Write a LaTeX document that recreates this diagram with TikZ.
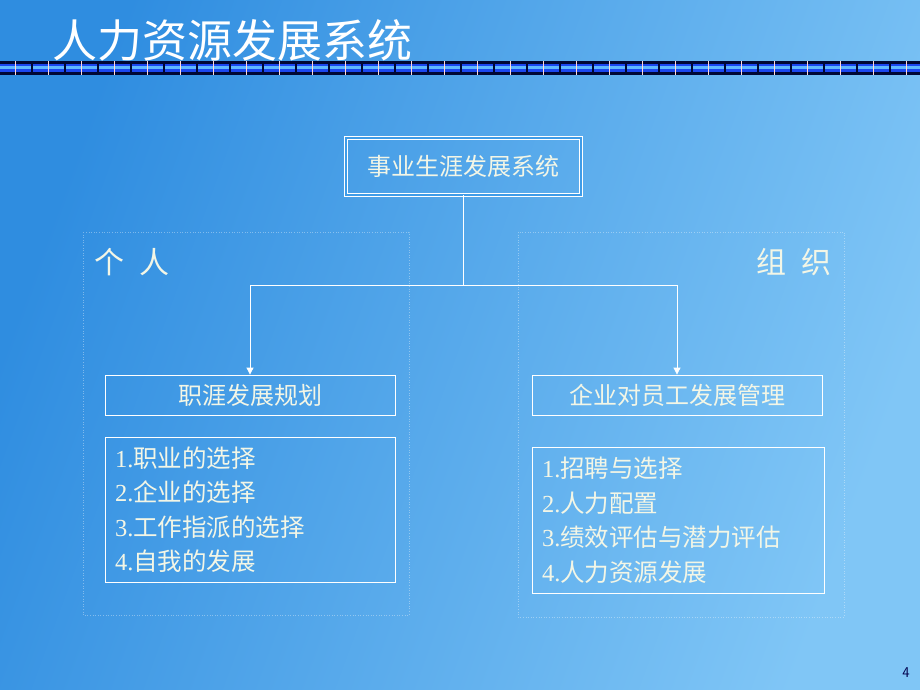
\documentclass[tikz,border=0pt]{standalone}
\usepackage{fontspec}
\setmainfont{Liberation Serif}
\newfontfamily\cjk{Noto Sans CJK SC}
\usetikzlibrary{arrows.meta}

\definecolor{bgleft}{HTML}{2F8DE0}
\definecolor{bgright}{HTML}{80C6F6}
\definecolor{bgmid}{HTML}{3F9CE8}
\definecolor{inktext}{HTML}{F3F6E6}
\definecolor{barnavy}{HTML}{000835}
\definecolor{barblue}{HTML}{1B47F0}
\definecolor{barcyan}{HTML}{5FB8FF}

\begin{document}
\begin{tikzpicture}[x=1pt,y=-1pt,
    boxline/.style={draw=white,line width=0.8pt},
    headbox/.style={boxline,text=inktext,minimum height=40pt,font=\cjk\fontsize{24pt}{24pt}\selectfont},
    listbox/.style={boxline,text=inktext,align=left,inner xsep=10pt,
      font=\fontsize{24.5pt}{34.5pt}\selectfont},
    sidelabel/.style={text=inktext,font=\cjk\fontsize{30pt}{30pt}\selectfont},
    panel/.style={draw=white,draw opacity=0.35,dotted,line width=0.6pt},
    link/.style={draw=white,line width=0.8pt},
    tip/.style={-{Triangle[width=7pt,length=7pt]}}]
    \useasboundingbox (0,0) rectangle (920,690);
    % background
    \shade[left color=bgleft,right color=bgright,shading angle=70] (0,0) rectangle (920,690);
    % title and bar under it
    \node[text=white,font=\cjk\fontsize{45pt}{45pt}\selectfont] (title) at (232,40) {人力资源发展系统};
    \fill[barnavy] (0,61) rectangle (920,75);
    \fill[barblue] (0,64) rectangle (920,72);
    \fill[barcyan] (0,66.5) rectangle (920,69.5);
    \foreach \k in {0,...,27} {
        \fill[white!85!red] (15+33*\k,61) rectangle (16+33*\k,75);
        \fill[barnavy] (31+33*\k,61) rectangle (33+33*\k,75);
    }
    % the two faint panels
    \draw[panel] (83,232) rectangle (409,615);
    \draw[panel] (518,232) rectangle (844,617);
    % boxes
    \node[headbox,double=bgmid,double distance=2pt,minimum width=235pt,minimum height=57pt] (career) at (463.5,166.5) {事业生涯发展系统};
    \node[sidelabel] (person) at (132,262) {个\hspace{0.5em}人};
    \node[sidelabel] (org) at (794,262) {组\hspace{0.5em}织};
    \node[headbox,minimum width=290pt] (plan) at (250,395) {职涯发展规划};
    \node[headbox,minimum width=290pt] (mgmt) at (677,395) {企业对员工发展管理};
    \node[listbox,text width=270pt,minimum height=145pt] (planlist) at (250,509.5) {%
        1.{\cjk 职业的选择}\\
        2.{\cjk 企业的选择}\\
        3.{\cjk 工作指派的选择}\\
        4.{\cjk 自我的发展}};
    \node[listbox,text width=272pt,minimum height=146pt] (mgmtlist) at (678,520) {%
        1.{\cjk 招聘与选择}\\
        2.{\cjk 人力配置}\\
        3.{\cjk 绩效评估与潜力评估}\\
        4.{\cjk 人力资源发展}};
    % connectors
    \coordinate (fork) at (463.5,285);
    \draw[link] (career) -- (fork);
    \draw[link,tip] (fork) -| (plan);
    \draw[link,tip] (fork) -| (mgmt);
    % page number
    \node[text=black!70!blue,font=\sffamily\fontsize{15pt}{15pt}\selectfont] (pageno) at (906,673) {4};
\end{tikzpicture}
\end{document}
